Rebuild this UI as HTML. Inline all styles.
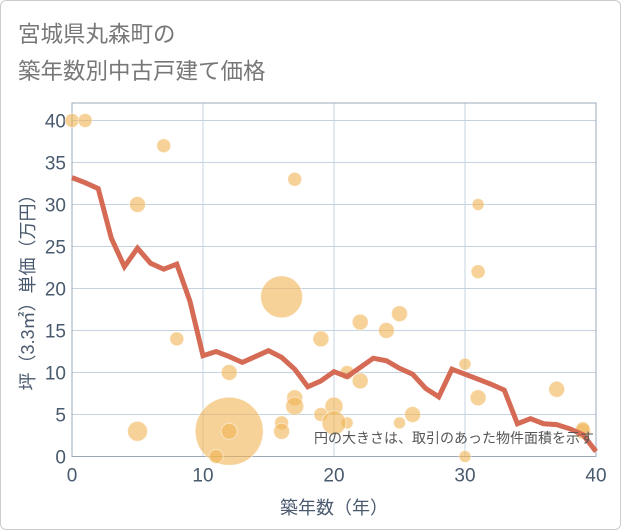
<!DOCTYPE html>
<html><head><meta charset="utf-8"><style>
body{margin:0;background:#fff;}
#wrap{position:relative;width:621px;height:530px;overflow:hidden;font-family:"Liberation Sans","Noto Sans CJK JP",sans-serif;}
#frame{position:absolute;left:0;top:0;width:619px;height:528px;border:1px solid #ccc;border-radius:6px;}
</style></head><body>
<div id="wrap">
<div id="frame"></div>
<svg id="chart" width="621" height="530" style="position:absolute;left:0;top:0">
<text x="18" y="42" font-size="22.5" fill="#777" font-family="Liberation Sans, Noto Sans CJK JP, sans-serif">宮城県丸森町の</text>
<text x="18" y="79" font-size="22.5" fill="#777" font-family="Liberation Sans, Noto Sans CJK JP, sans-serif">築年数別中古戸建て価格</text>
</svg>
</div>
<script>
const lineYears=[0,1,2,3,4,5,6,7,8,9,10,11,12,13,14,15,16,17,18,19,20,21,22,23,24,25,26,27,28,29,30,31,32,33,34,35,36,37,38,39,40];
const lineValues=[33.2,32.6,31.9,26,22.6,24.8,23,22.3,22.9,18.5,12,12.5,11.9,11.2,11.9,12.6,11.8,10.4,8.3,9,10.1,9.5,10.6,11.7,11.4,10.5,9.8,8.1,7.1,10.4,9.8,9.2,8.6,7.9,3.9,4.5,3.9,3.8,3.3,2.6,0.6];
const bubbleX=[0,1,7,5,17,31,31,16,8,19,22,24,25,12,21,22,30,17,31,37,17,20,19,26,16,21,25,20,5,12,12,16,11,30,39,39];
const bubbleY=[40,40,37,30,33,30,22,19,14,14,16,15,17,10,10,9,11,7,7,8,6,6,5,5,4,4,4,4,3,3,3,3,0,0,3,3.3];
const bubbleSize=[7,7,7,8,7,6,7,21,7,8,8,8,8,8,7,8,6,8,8,8,9,9,7,8,7,6,6,12,10,34,8,8,7,6,8,7];
const xTicks=[0,10,20,30,40];
const yTicks=[0,5,10,15,20,25,30,35,40];
const L=72,R=596,T=103,B=456.5;
const xs=v=>L+(v/40)*(R-L);
const ys=v=>B-(v/40)*(456.5-120.5);
const svg=document.getElementById('chart');
const NS='http://www.w3.org/2000/svg';
function mk(tag,attrs){const e=document.createElementNS(NS,tag);for(const k in attrs)e.setAttribute(k,attrs[k]);svg.appendChild(e);return e;}
const bg=mk('rect',{x:L,y:T,width:R-L,height:B-T,fill:'#fff'});


yTicks.forEach(t=>{
 const g=mk('line',{x1:L,x2:R,y1:ys(t),y2:ys(t),stroke:'#c5d3e0','stroke-width':1});
 
 
 const tx=mk('text',{x:L-6,y:ys(t)+7,'text-anchor':'end','font-size':19,fill:'#4a5a6e'});
 tx.textContent=t;
 
 
});
xTicks.forEach(t=>{
 const g=mk('line',{x1:xs(t),x2:xs(t),y1:T,y2:B,stroke:'#c5d3e0','stroke-width':1});
 
 
 const tx=mk('text',{x:xs(t),y:B+25,'text-anchor':'middle','font-size':19,fill:'#4a5a6e'});
 tx.textContent=t;
 
 
});
const border=mk('rect',{x:L,y:T,width:R-L,height:B-T,fill:'none',stroke:'#9aa8b8','stroke-width':1});


bubbleX.forEach((x,i)=>{
 const c=mk('circle',{cx:xs(x),cy:ys(bubbleY[i]),r:bubbleSize[i],fill:'#f0b453','fill-opacity':0.6,stroke:'#fff','stroke-opacity':0.5,'stroke-width':1});
 
 
});
const pts=lineYears.map((x,i)=>xs(x)+','+ys(lineValues[i])).join(' ');
const pl=mk('polyline',{points:pts,fill:'none',stroke:'#d66b55','stroke-width':5,'stroke-linejoin':'miter'});


const note=mk('text',{x:R-2,y:443,'text-anchor':'end','font-size':14,fill:'#555'});
note.textContent='円の大きさは、取引のあった物件面積を示す';


const xt=mk('text',{x:(L+R)/2,y:514,'text-anchor':'middle','font-size':18,fill:'#4a5a6e'});
xt.textContent='築年数（年）';


const yt=mk('text',{x:0,y:0,'text-anchor':'middle','font-size':18,fill:'#4a5a6e',transform:'translate(34,288) rotate(-90)'});
yt.textContent='坪（3.3㎡）単価（万円）';


</script>
</body></html>
